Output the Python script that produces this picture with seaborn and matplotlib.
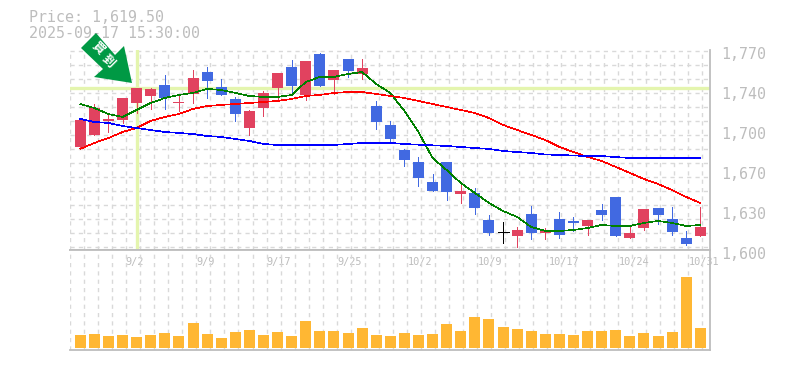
import numpy as np
import pandas as pd
import seaborn as sns
import matplotlib.pyplot as plt
from matplotlib.patches import Polygon
from matplotlib.transforms import ScaledTranslation

# daily prices
opens = [1687.5, 1697.8, 1709.7, 1710.5, 1725.0, 1730.9, 1740.3, 1725.0, 1732.6, 1751.3, 1738.6, 1728.4, 1703.7, 1720.7, 1737.7,
         1755.6, 1731.8, 1766.6, 1744.5, 1762.4, 1749.6, 1722.4, 1706.3, 1685.0, 1674.8, 1657.8, 1674.8, 1647.6, 1648.5, 1625.5,
         1614.9, 1611.9, 1630.6, 1614.5, 1626.4, 1624.7, 1620.4, 1634.0, 1645.0, 1610.2, 1618.7, 1635.7, 1626.4, 1610.2, 1611.9]
closes = [1710.5, 1720.7, 1711.4, 1729.2, 1737.7, 1736.9, 1729.2, 1725.8, 1746.2, 1743.7, 1731.8, 1715.6, 1718.2, 1733.5, 1750.5,
          1739.4, 1760.7, 1739.4, 1753.0, 1752.2, 1754.7, 1708.8, 1694.4, 1676.5, 1661.2, 1650.2, 1649.3, 1650.2, 1635.7, 1614.5,
          1614.9, 1617.0, 1614.5, 1616.2, 1612.8, 1623.0, 1625.5, 1629.8, 1611.9, 1614.5, 1634.9, 1629.8, 1615.3, 1605.1, 1619.5]
highs = [1710.5, 1724.1, 1716.5, 1729.2, 1737.7, 1737.7, 1748.8, 1732.6, 1753.0, 1755.6, 1745.4, 1730.1, 1719.0, 1735.2, 1750.5,
         1761.5, 1760.7, 1767.5, 1753.0, 1762.4, 1762.4, 1726.7, 1709.7, 1685.9, 1679.1, 1664.6, 1674.8, 1656.1, 1652.7, 1629.8,
         1623.8, 1619.6, 1637.4, 1618.7, 1632.3, 1628.1, 1625.5, 1639.1, 1645.0, 1621.3, 1634.9, 1635.7, 1636.6, 1616.2, 1636.6]
lows = [1686.0, 1697.8, 1700.3, 1708.0, 1716.5, 1719.9, 1719.9, 1718.2, 1725.0, 1729.2, 1731.8, 1709.7, 1697.8, 1713.9, 1728.4,
        1734.3, 1727.5, 1739.4, 1732.6, 1747.1, 1745.4, 1702.9, 1692.7, 1671.4, 1654.4, 1650.2, 1642.5, 1640.0, 1630.6, 1612.8,
        1606.0, 1602.6, 1609.4, 1609.4, 1610.2, 1616.2, 1612.8, 1625.5, 1611.9, 1610.2, 1617.0, 1622.1, 1612.8, 1604.3, 1611.9]

ma_short = [1724.1, 1720.7, 1715.6, 1713.1, 1719.0, 1725.0, 1729.2, 1731.8, 1733.5, 1736.9, 1736.0, 1733.5, 1730.9, 1730.1, 1730.1,
            1731.8, 1742.8, 1747.1, 1747.1, 1749.6, 1751.3, 1741.1, 1733.5, 1718.2, 1700.3, 1678.2, 1668.0, 1657.0, 1648.5, 1640.0,
            1633.2, 1628.1, 1619.6, 1616.2, 1616.2, 1617.0, 1618.7, 1621.3, 1620.4, 1620.4, 1623.0, 1624.7, 1623.0, 1620.4, 1621.3]
ma_mid = [1685.9, 1691.0, 1695.2, 1700.3, 1703.7, 1709.7, 1713.1, 1715.6, 1719.9, 1722.4, 1723.3, 1724.1, 1725.0, 1725.8, 1726.7,
          1728.4, 1730.9, 1731.8, 1733.5, 1734.3, 1734.3, 1732.6, 1730.9, 1729.2, 1726.7, 1724.1, 1721.6, 1719.0, 1716.5, 1712.2,
          1706.3, 1702.0, 1697.8, 1693.5, 1687.6, 1683.3, 1679.1, 1675.7, 1670.6, 1665.5, 1660.4, 1656.1, 1651.0, 1645.1, 1640.0]
ma_long = [1711.4, 1708.8, 1708.0, 1705.4, 1703.7, 1702.0, 1700.3, 1699.5, 1698.6, 1696.9, 1696.1, 1694.4, 1692.7, 1690.1, 1689.3,
           1689.3, 1689.3, 1689.3, 1689.3, 1690.1, 1691.0, 1691.0, 1691.0, 1690.1, 1689.5, 1689.0, 1688.4, 1687.6, 1686.7, 1685.9,
           1684.2, 1683.3, 1682.5, 1681.2, 1680.8, 1680.3, 1679.9, 1679.9, 1679.0, 1678.2, 1678.2, 1678.2, 1678.2, 1678.2, 1678.2]

volumes = [13, 14, 12, 13, 11, 13, 15, 12, 25, 14, 10, 16, 18, 13, 16, 12, 27, 17, 17, 15, 20, 13, 12,
           15, 13, 14, 24, 17, 31, 29, 21, 19, 17, 14, 14, 13, 17, 17, 18, 12, 15, 12, 16, 71, 20]

date_ticks = [4, 9, 14, 19, 24, 29, 34, 39, 44]
date_labels = ['9/2', '9/9', '9/17', '9/25', '10/2', '10/9', '10/17', '10/24', '10/31']
price_ticks = [1770, 1736, 1702, 1668, 1634, 1600]
price_labels = ['1,770', '1,740', '1,700', '1,670', '1,630', '1,600']
last_price = 1737.7

RED = '#e1425f'
BLUE = '#4169e1'
GRAY = '#bdbdbd'
GRID = '#d9d9d9'
HILITE = '#e4f5ae'
W, H = 785, 370
MONO = 'DejaVu Sans Mono'

sns.set_theme(style='white')
plt.rcParams['font.family'] = [MONO, 'DejaVu Sans']

fig = plt.figure(figsize=(W / 100, H / 100), dpi=100)
ax = fig.add_axes([70 / W, 120 / H, 640 / W, 200 / H])
vol = fig.add_axes([70 / W, 20 / H, 640 / W, 100 / H])

days = np.arange(len(closes))
xlim = (-0.73, 44.69)
x_grid = np.arange(xlim[0], xlim[1], 0.9965)
y_grid = 1769.15 - 11.9 * np.arange(15)

for a in (ax, vol):
    a.set_xlim(xlim)
    a.set_xticks(x_grid, minor=True)
    a.grid(True, which='minor', color=GRID, lw=1.0, ls=(0, (3, 3)))
    a.set_axisbelow(True)
    a.tick_params(which='both', length=0)
    for side in a.spines:
        a.spines[side].set_color(GRAY)
        a.spines[side].set_linewidth(1.3)
    a.spines['left'].set_visible(False)

# price panel
ax.set_ylim(1600, 1770)
ax.set_yticks(y_grid, minor=True)
ax.spines['top'].set_visible(False)
ax.set_xticks([])
ax.yaxis.tick_right()
ax.set_yticks(price_ticks)
ax.set_yticklabels(price_labels)
ax.tick_params(axis='y', which='major', pad=8, labelsize=10.8, labelcolor=GRAY)
for label in ax.get_yticklabels():
    label.set_transform(label.get_transform() + ScaledTranslation(0, -2.7 / 100, fig.dpi_scale_trans))

ax.axhline(last_price, color=HILITE, lw=2.4, zorder=1.5)
ax.axvline(date_ticks[0], color=HILITE, lw=2.4, zorder=1.5)

for i in days:
    o, c = opens[i], closes[i]
    color = RED if c > o else BLUE if c < o else 'black'
    ax.vlines(i, lows[i], highs[i], color=color, lw=0.72, zorder=2, antialiased=False)
    if c == o:
        ax.hlines(c, i - 0.39, i + 0.39, color=color, lw=0.72, zorder=2, antialiased=False)
    else:
        ax.bar(i, abs(c - o), bottom=min(o, c), width=0.78, color=color, lw=0, zorder=2)

for series, color in ((ma_short, 'green'), (ma_mid, 'red'), (ma_long, 'blue')):
    sns.lineplot(x=days, y=series, color=color, lw=0.45, ax=ax, zorder=3, antialiased=False)
ax.set_xlim(xlim)
ax.set_ylim(1600, 1770)

# volume panel
vol_df = pd.DataFrame({'day': days, 'volume': volumes})
sns.barplot(data=vol_df, x='day', y='volume', color='#ffb733', saturation=1, width=0.78,
            native_scale=True, linewidth=0, ax=vol, zorder=2)
vol.set_xlim(xlim)
vol.set_ylim(-2, 98)
vol.set_xlabel('')
vol.set_ylabel('')
vol.set_yticks([])
vol.set_xticks(x_grid, minor=True)
vol.set_xticks(date_ticks)
vol.set_xticklabels(date_labels)
vol.tick_params(axis='x', which='major', top=False, bottom=False, labeltop=True, labelbottom=False,
                pad=-12.5, labelsize=7.4, labelcolor=GRAY)
# date labels start a little left of their day
for label in vol.get_xticklabels():
    label.set_horizontalalignment('left')
    label.set_transform(label.get_transform() + ScaledTranslation(-11 / 100, 0, fig.dpi_scale_trans))

# price readout
fig.text(29 / W, 1 - 18 / H, 'Price: 1,619.50', color=GRAY, fontsize=10.8, va='center')
fig.text(29 / W, 1 - 33 / H, '2025-09-17 15:30:00', color=GRAY, fontsize=10.8, va='center')

# signal arrow
arrow_px = [(96, 33), (81, 48), (103, 69), (94, 77), (132, 83), (124, 46), (115, 55)]
arrow = Polygon([(x / W, 1 - y / H) for x, y in arrow_px], closed=True, facecolor='#009944',
                edgecolor='none', transform=fig.transFigure, zorder=5)
fig.add_artist(arrow)
for ch, (x, y) in zip('買到', [(98, 48), (108, 61)]):
    fig.text(x / W, 1 - y / H, ch, color='white', fontsize=8.8, fontweight='bold', rotation=-45,
             ha='center', va='center', family=['Noto Sans CJK JP', 'DejaVu Sans'], zorder=6)

fig.savefig('out.png', dpi=100, facecolor='white')
